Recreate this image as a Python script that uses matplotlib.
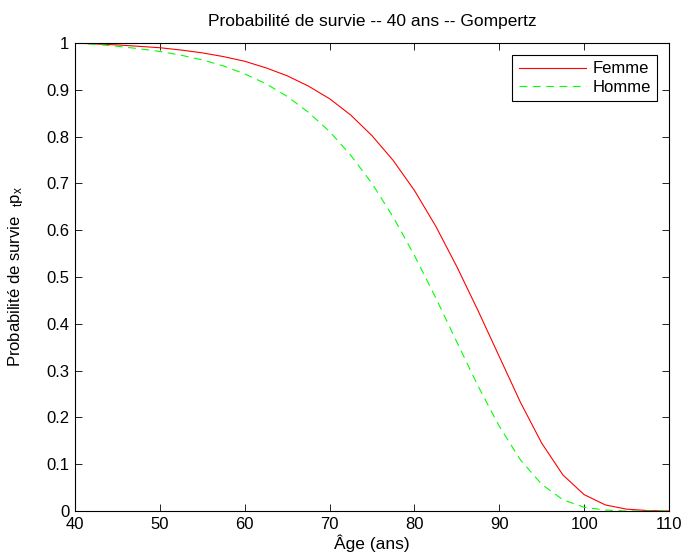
import matplotlib
matplotlib.use("Agg")
import matplotlib.pyplot as plt
import numpy as np

# ages read every 2.5 years, survival probabilities
ages = np.arange(40, 110.1, 2.5)
femme = [1.000, 0.998, 0.996, 0.993, 0.990, 0.985, 0.979, 0.971, 0.961, 0.947,
         0.930, 0.908, 0.881, 0.846, 0.802, 0.749, 0.685, 0.609, 0.522, 0.428,
         0.330, 0.232, 0.145, 0.077, 0.035, 0.013, 0.004, 0.001, 0.000]
homme = [1.000, 0.997, 0.993, 0.988, 0.982, 0.974, 0.964, 0.951, 0.934, 0.913,
         0.886, 0.852, 0.811, 0.760, 0.700, 0.628, 0.546, 0.456, 0.361, 0.267,
         0.181, 0.109, 0.057, 0.024, 0.008, 0.002, 0.000, 0.000, 0.000]
xticks = [40, 50, 60, 70, 80, 90, 100, 110]
yticks = [0, 0.1, 0.2, 0.3, 0.4, 0.5, 0.6, 0.7, 0.8, 0.9, 1]

plt.rcParams['font.family'] = ['Liberation Sans', 'DejaVu Sans']
plt.rcParams['mathtext.fontset'] = 'custom'
plt.rcParams['mathtext.rm'] = 'Liberation Sans'
plt.rcParams['mathtext.it'] = 'Liberation Sans'
plt.rcParams['mathtext.default'] = 'regular'

fig = plt.figure(figsize=(6.87, 5.56), dpi=100)
ax = fig.add_axes([0.1092, 0.0809, 0.8646, 0.8417])

ax.plot(ages, femme, color='#ff0000', lw=0.8, label='Femme')
ax.plot(ages, homme, color='#00ff00', lw=0.8, ls=(0, (7, 5)), label='Homme')

ax.set_xlim(40, 110)
ax.set_ylim(0, 1)
ax.set_xticks(xticks)
ax.set_xticklabels([str(t) for t in xticks])
ax.set_yticks(yticks)
ax.set_yticklabels(['0', '0.1', '0.2', '0.3', '0.4', '0.5', '0.6', '0.7', '0.8', '0.9', '1'])
ax.tick_params(direction='in', length=5, width=0.6, labelsize=12, top=True, right=True, pad=4)
for s in ax.spines.values():
    s.set_linewidth(0.8)

ax.set_title('Probabilité de survie -- 40 ans -- Gompertz', fontsize=12.5, pad=12)
ax.set_xlabel('Âge (ans)', fontsize=12.5, labelpad=2)
ax.set_ylabel(r'Probabilité de survie  $_t$p$_x$', fontsize=12)
ax.yaxis.set_label_coords(-0.084, 0.5)

leg = ax.legend(loc='upper right', fontsize=12, fancybox=False, framealpha=1,
                edgecolor='black', handlelength=4.0, borderaxespad=0.7,
                borderpad=0.4, labelspacing=0.2, handletextpad=0.4)
leg.get_frame().set_linewidth(0.8)

fig.savefig('out.png', dpi=100)
